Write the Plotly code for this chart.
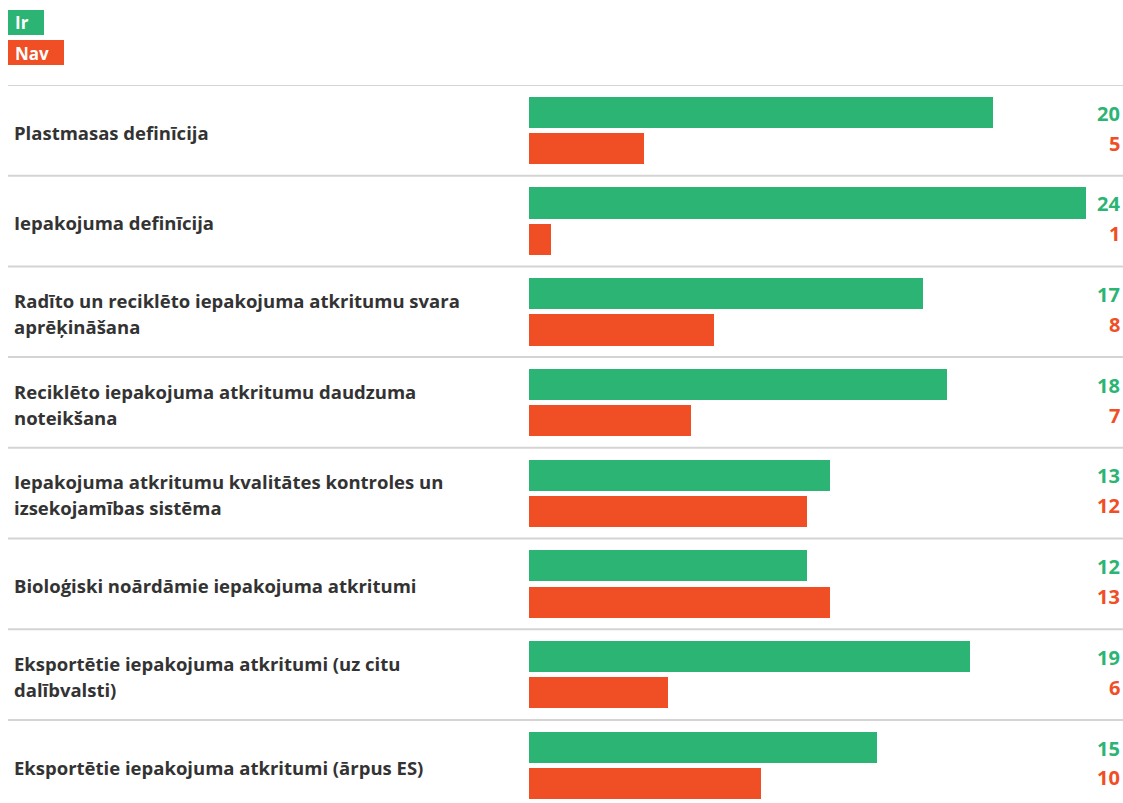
import plotly.graph_objects as go

categories = [
    "Plastmasas definīcija",
    "Iepakojuma definīcija",
    "Radīto un reciklēto iepakojuma atkritumu svara<br>aprēķināšana",
    "Reciklēto iepakojuma atkritumu daudzuma<br>noteikšana",
    "Iepakojuma atkritumu kvalitātes kontroles un<br>izsekojamības sistēma",
    "Bioloģiski noārdāmie iepakojuma atkritumi",
    "Eksportētie iepakojuma atkritumi (uz citu<br>dalībvalsti)",
    "Eksportētie iepakojuma atkritumi (ārpus ES)",
]
ir_values = [20, 24, 17, 18, 13, 12, 19, 15]
nav_values = [5, 1, 8, 7, 12, 13, 6, 10]
series_names = ["Ir", "Nav"]

GREEN = "#2bb473"
RED = "#f04e25"
W, H = 1123, 803
TOP = 85
ROW = 90.7
plot_h = H - TOP
rows_visible = plot_h / ROW


def py(p):
    return (H - p) / plot_h


def px(p):
    return p / W


ypos = list(range(len(categories)))

fig = go.Figure()
fig.add_trace(go.Bar(
    y=ypos, x=ir_values, orientation="h", name=series_names[0],
    marker=dict(color=GREEN, line=dict(color="white", width=1)),
    width=0.355, offset=-0.37, hoverinfo="x",
))
fig.add_trace(go.Bar(
    y=ypos, x=nav_values, orientation="h", name=series_names[1],
    marker=dict(color=RED, line=dict(color="white", width=1)),
    width=0.355, offset=0.03, hoverinfo="x",
))

annotations = []
font_lbl = dict(family="Open Sans", size=18.5, color="#333333")
for i, lab in enumerate(categories):
    lines = lab.split("<br>")
    n = len(lines)
    for k, ln in enumerate(lines):
        dy = (k - (n - 1) / 2) * (26 / ROW) + 0.02
        annotations.append(dict(
            x=px(12), xref="paper", xanchor="left",
            y=i + dy, yref="y", yanchor="middle",
            text="<b>" + ln + "</b>", showarrow=False, font=font_lbl,
        ))
    annotations.append(dict(
        x=px(1122), xref="paper", xanchor="right",
        y=i - 0.19, yref="y", yanchor="middle",
        text="<b>%d</b>" % ir_values[i], showarrow=False,
        font=dict(family="Open Sans", size=20, color=GREEN),
    ))
    annotations.append(dict(
        x=px(1122), xref="paper", xanchor="right",
        y=i + 0.14, yref="y", yanchor="middle",
        text="<b>%d</b>" % nav_values[i], showarrow=False,
        font=dict(family="Open Sans", size=20, color=RED),
    ))

shapes = []
# legend boxes
shapes.append(dict(type="rect", xref="paper", yref="paper",
                   x0=px(8), x1=px(44), y0=py(35), y1=py(10),
                   fillcolor=GREEN, line=dict(width=0)))
shapes.append(dict(type="rect", xref="paper", yref="paper",
                   x0=px(8), x1=px(64), y0=py(65), y1=py(40),
                   fillcolor=RED, line=dict(width=0)))
annotations.append(dict(
    x=px(13), xref="paper", xanchor="left",
    y=py(23), yref="paper", yanchor="middle",
    text="<b>" + series_names[0] + "</b>", showarrow=False,
    font=dict(family="Open Sans", size=17, color="white"),
))
annotations.append(dict(
    x=px(13), xref="paper", xanchor="left",
    y=py(53), yref="paper", yanchor="middle",
    text="<b>" + series_names[1] + "</b>", showarrow=False,
    font=dict(family="Open Sans", size=17, color="white"),
))

for i in range(len(categories)):
    shapes.append(dict(
        type="line", xref="paper", x0=px(8), x1=1.0,
        yref="y", y0=i - 0.5, y1=i - 0.5,
        line=dict(color="#d4d4d4", width=2), layer="below",
    ))

fig.update_layout(
    width=W, height=H,
    margin=dict(l=0, r=0, t=TOP, b=0),
    paper_bgcolor="white", plot_bgcolor="white",
    showlegend=False,
    xaxis=dict(domain=[529 / W, 1087 / W], range=[0, 24], visible=False, fixedrange=True),
    yaxis=dict(range=[-0.5 + rows_visible, -0.5], visible=False, fixedrange=True),
    annotations=annotations, shapes=shapes,
    bargap=0, font=dict(family="Open Sans"),
)

fig.write_html(
    "out.html",
    config={"displayModeBar": False},
    post_script="document.body.style.margin='0';document.body.style.overflow='hidden';",
)
